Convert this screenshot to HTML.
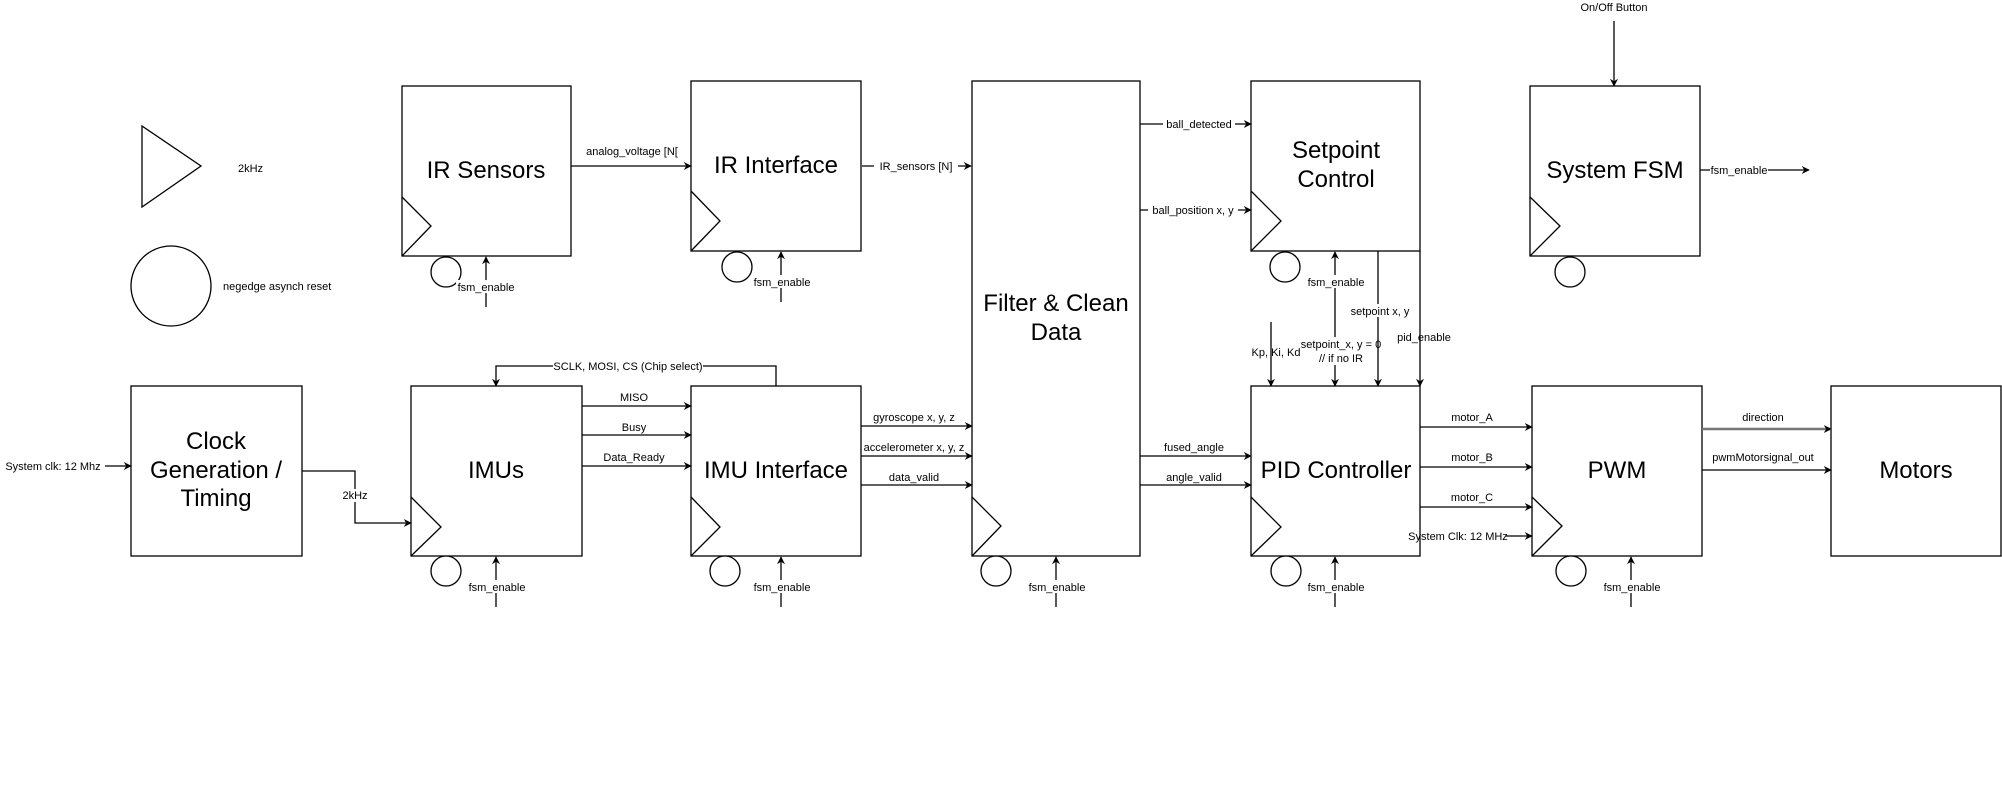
<!DOCTYPE html>
<html><head><meta charset="utf-8"><style>
html,body{margin:0;padding:0;background:#fff;}
svg{display:block;}
text{font-family:"Liberation Sans",sans-serif;fill:#000;}
.t{font-size:24px;text-anchor:middle;}
.l{font-size:11px;text-anchor:middle;}
.bx{fill:#fff;stroke:#000;stroke-width:1.3;}
.ln{stroke:#000;stroke-width:1.3;fill:none;}
.bg{fill:#fff;}
</style></head><body>
<svg width="2002" height="796" viewBox="0 0 2002 796" xmlns="http://www.w3.org/2000/svg">
<defs>
<marker id="a" viewBox="0 0 10 10" refX="9" refY="5" markerWidth="8" markerHeight="8" markerUnits="userSpaceOnUse" orient="auto">
<path d="M0,0 L10,5 L0,10 L3,5 z" fill="#000"/></marker>
</defs>

<!-- legend -->
<polygon points="142,126 201,166 142,207" class="bx"/>
<text x="238" y="172" style="font-size:11px">2kHz</text>
<ellipse cx="171" cy="286" rx="40" ry="40" class="bx"/>
<text x="223" y="290" style="font-size:11px">negedge asynch reset</text>

<!-- boxes -->
<g>
<rect x="402" y="86" width="169" height="170" class="bx"/>
<polyline points="402,197 431,226 402,256" class="ln"/>
<text x="486" y="178" class="t">IR Sensors</text>
<circle cx="446" cy="272" r="15" class="bx"/>

<rect x="691" y="81" width="170" height="170" class="bx"/>
<polyline points="691,191 720,221 691,251" class="ln"/>
<text x="776" y="173" class="t">IR Interface</text>
<circle cx="737" cy="267" r="15" class="bx"/>

<rect x="972" y="81" width="168" height="475" class="bx"/>
<polyline points="972,497 1001,526 972,556" class="ln"/>
<text x="1056" y="311" class="t">Filter &amp; Clean</text>
<text x="1056" y="340" class="t">Data</text>
<circle cx="996" cy="571" r="15" class="bx"/>

<rect x="1251" y="81" width="169" height="170" class="bx"/>
<polyline points="1251,191 1281,221 1251,251" class="ln"/>
<text x="1336" y="158" class="t">Setpoint</text>
<text x="1336" y="187" class="t">Control</text>
<circle cx="1285" cy="267" r="15" class="bx"/>

<rect x="1530" y="86" width="170" height="170" class="bx"/>
<polyline points="1530,197 1560,226 1530,256" class="ln"/>
<text x="1615" y="178" class="t">System FSM</text>
<circle cx="1570" cy="272" r="15" class="bx"/>

<rect x="131" y="386" width="171" height="170" class="bx"/>
<text x="216" y="449" class="t">Clock</text>
<text x="216" y="478" class="t">Generation /</text>
<text x="216" y="506" class="t">Timing</text>

<rect x="411" y="386" width="171" height="170" class="bx"/>
<polyline points="411,497 441,527 411,556" class="ln"/>
<text x="496" y="478" class="t">IMUs</text>
<circle cx="446" cy="571" r="15" class="bx"/>

<rect x="691" y="386" width="170" height="170" class="bx"/>
<polyline points="691,497 720,527 691,556" class="ln"/>
<text x="776" y="478" class="t">IMU Interface</text>
<circle cx="725" cy="571" r="15" class="bx"/>

<rect x="1251" y="386" width="169" height="170" class="bx"/>
<polyline points="1251,497 1281,527 1251,556" class="ln"/>
<text x="1336" y="478" class="t">PID Controller</text>
<circle cx="1286" cy="571" r="15" class="bx"/>

<rect x="1532" y="386" width="170" height="170" class="bx"/>
<polyline points="1532,497 1562,526 1532,556" class="ln"/>
<text x="1617" y="478" class="t">PWM</text>
<circle cx="1571" cy="571" r="15" class="bx"/>

<rect x="1831" y="386" width="170" height="170" class="bx"/>
<text x="1916" y="478" class="t">Motors</text>
</g>

<!-- top row connectors -->
<line x1="571" y1="166" x2="691" y2="166" class="ln" marker-end="url(#a)"/>
<text x="632" y="155" class="l">analog_voltage [N[</text>
<line x1="862" y1="166" x2="971" y2="166" class="ln" marker-end="url(#a)"/>
<rect x="874" y="159" width="84" height="13" class="bg"/>
<text x="916" y="170" class="l">IR_sensors [N]</text>

<line x1="1140" y1="124" x2="1251" y2="124" class="ln" marker-end="url(#a)"/>
<rect x="1163" y="117" width="72" height="13" class="bg"/>
<text x="1199" y="128" class="l">ball_detected</text>
<line x1="1140" y1="210" x2="1251" y2="210" class="ln" marker-end="url(#a)"/>
<rect x="1148" y="203" width="90" height="13" class="bg"/>
<text x="1193" y="214" class="l">ball_position x, y</text>

<line x1="1614" y1="21" x2="1614" y2="86" class="ln" marker-end="url(#a)"/>
<text x="1614" y="11" class="l">On/Off Button</text>
<line x1="1700" y1="170" x2="1809" y2="170" class="ln" marker-end="url(#a)"/>
<rect x="1710" y="163" width="58" height="13" class="bg"/>
<text x="1739" y="174" class="l">fsm_enable</text>

<!-- setpoint to PID -->
<line x1="1271" y1="322" x2="1271" y2="386" class="ln" marker-end="url(#a)"/>
<text x="1276" y="356" class="l">Kp, Ki, Kd</text>
<line x1="1335" y1="300" x2="1335" y2="386" class="ln" marker-end="url(#a)"/>
<rect x="1302" y="337" width="66" height="28" class="bg"/>
<text x="1341" y="348" class="l">setpoint_x, y = 0</text>
<text x="1341" y="362" class="l">// if no IR</text>
<line x1="1378" y1="251" x2="1378" y2="386" class="ln" marker-end="url(#a)"/>
<rect x="1348" y="304" width="64" height="13" class="bg"/>
<text x="1380" y="315" class="l">setpoint x, y</text>
<line x1="1420" y1="251" x2="1420" y2="386" class="ln" marker-end="url(#a)"/>
<text x="1424" y="341" class="l">pid_enable</text>

<!-- bottom row connectors -->
<line x1="105" y1="466" x2="131" y2="466" class="ln" marker-end="url(#a)"/>
<text x="53" y="470" class="l">System clk: 12 Mhz</text>
<polyline points="302,471 355,471 355,523 411,523" class="ln" marker-end="url(#a)"/>
<rect x="342" y="489" width="26" height="13" class="bg"/>
<text x="355" y="499" class="l">2kHz</text>

<polyline points="776,386 776,366 496,366 496,386" class="ln" marker-end="url(#a)"/>
<rect x="553" y="359" width="150" height="13" class="bg"/>
<text x="628" y="370" class="l">SCLK, MOSI, CS (Chip select)</text>

<line x1="582" y1="406" x2="691" y2="406" class="ln" marker-end="url(#a)"/>
<text x="634" y="401" class="l">MISO</text>
<line x1="582" y1="435" x2="691" y2="435" class="ln" marker-end="url(#a)"/>
<text x="634" y="431" class="l">Busy</text>
<line x1="582" y1="466" x2="691" y2="466" class="ln" marker-end="url(#a)"/>
<text x="634" y="461" class="l">Data_Ready</text>

<line x1="861" y1="426" x2="972" y2="426" class="ln" marker-end="url(#a)"/>
<text x="914" y="421" class="l">gyroscope x, y, z</text>
<line x1="861" y1="456" x2="972" y2="456" class="ln" marker-end="url(#a)"/>
<text x="914" y="451" class="l">accelerometer x, y, z</text>
<line x1="861" y1="485" x2="972" y2="485" class="ln" marker-end="url(#a)"/>
<text x="914" y="481" class="l">data_valid</text>

<line x1="1140" y1="456" x2="1251" y2="456" class="ln" marker-end="url(#a)"/>
<text x="1194" y="451" class="l">fused_angle</text>
<line x1="1140" y1="485" x2="1251" y2="485" class="ln" marker-end="url(#a)"/>
<text x="1194" y="481" class="l">angle_valid</text>

<line x1="1420" y1="427" x2="1532" y2="427" class="ln" marker-end="url(#a)"/>
<text x="1472" y="421" class="l">motor_A</text>
<line x1="1420" y1="467" x2="1532" y2="467" class="ln" marker-end="url(#a)"/>
<text x="1472" y="461" class="l">motor_B</text>
<line x1="1420" y1="507" x2="1532" y2="507" class="ln" marker-end="url(#a)"/>
<text x="1472" y="501" class="l">motor_C</text>
<line x1="1506" y1="536" x2="1532" y2="536" class="ln" marker-end="url(#a)"/>
<text x="1458" y="540" class="l">System Clk: 12 MHz</text>

<line x1="1702" y1="429" x2="1831" y2="429" stroke="#777" stroke-width="2.5" marker-end="url(#a)"/>
<text x="1763" y="421" class="l">direction</text>
<line x1="1702" y1="470" x2="1831" y2="470" class="ln" marker-end="url(#a)"/>
<text x="1763" y="461" class="l">pwmMotorsignal_out</text>

<!-- fsm_enable inputs -->
<g>
<line x1="486" y1="307" x2="486" y2="257" class="ln" marker-end="url(#a)"/>
<rect x="456" y="280" width="60" height="13" class="bg"/>
<text x="486" y="291" class="l">fsm_enable</text>
<line x1="781" y1="302" x2="781" y2="252" class="ln" marker-end="url(#a)"/>
<rect x="751" y="275" width="60" height="13" class="bg"/>
<text x="782" y="286" class="l">fsm_enable</text>
<line x1="1335" y1="300" x2="1335" y2="252" class="ln" marker-end="url(#a)"/>
<rect x="1305" y="275" width="60" height="13" class="bg"/>
<text x="1336" y="286" class="l">fsm_enable</text>

<line x1="496" y1="607" x2="496" y2="557" class="ln" marker-end="url(#a)"/>
<rect x="466" y="580" width="60" height="13" class="bg"/>
<text x="497" y="591" class="l">fsm_enable</text>
<line x1="781" y1="607" x2="781" y2="557" class="ln" marker-end="url(#a)"/>
<rect x="751" y="580" width="60" height="13" class="bg"/>
<text x="782" y="591" class="l">fsm_enable</text>
<line x1="1056" y1="607" x2="1056" y2="557" class="ln" marker-end="url(#a)"/>
<rect x="1026" y="580" width="60" height="13" class="bg"/>
<text x="1057" y="591" class="l">fsm_enable</text>
<line x1="1335" y1="607" x2="1335" y2="557" class="ln" marker-end="url(#a)"/>
<rect x="1305" y="580" width="60" height="13" class="bg"/>
<text x="1336" y="591" class="l">fsm_enable</text>
<line x1="1631" y1="607" x2="1631" y2="557" class="ln" marker-end="url(#a)"/>
<rect x="1601" y="580" width="60" height="13" class="bg"/>
<text x="1632" y="591" class="l">fsm_enable</text>
</g>
</svg>
</body></html>
